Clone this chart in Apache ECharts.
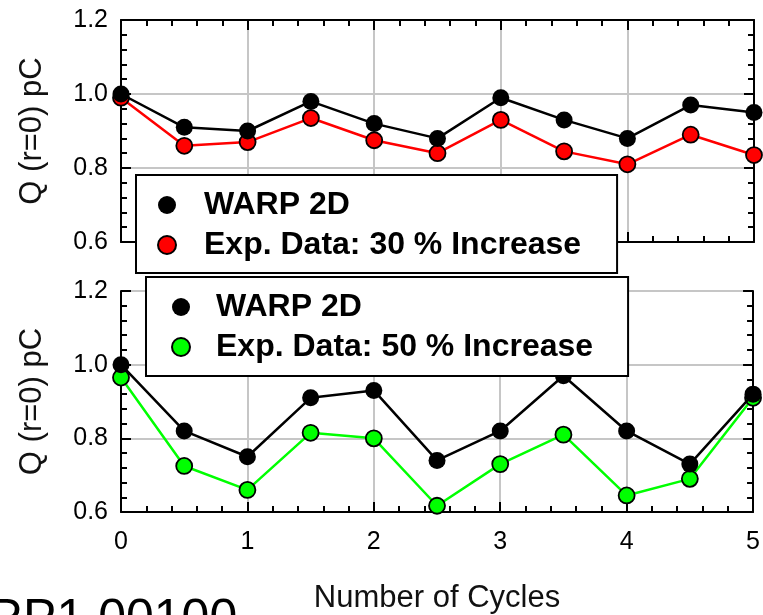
<!DOCTYPE html>
<html>
<head>
<meta charset="utf-8">
<script src="https://cdn.jsdelivr.net/npm/echarts@6/dist/echarts.min.js"></script>
<style>
  html, body { margin: 0; padding: 0; background: #fff; }
  #chart { width: 763px; height: 615px; }
</style>
</head>
<body>
<div id="chart"></div>
<script>
// Cycle positions shared by both panels
const cycles = [0, 0.5, 1, 1.5, 2, 2.5, 3, 3.5, 4, 4.5, 5];

// Upper panel: simulation vs. 30 % increase measurement
const warpUpper = [1.00, 0.91, 0.90, 0.98, 0.92, 0.88, 0.99, 0.93, 0.88, 0.97, 0.95];
const exp30 = [0.99, 0.86, 0.87, 0.935, 0.875, 0.84, 0.93, 0.845, 0.81, 0.89, 0.835];

// Lower panel: simulation vs. 50 % increase measurement
const warpLower = [1.00, 0.82, 0.75, 0.91, 0.93, 0.74, 0.82, 0.97, 0.82, 0.73, 0.92];
const exp50 = [0.965, 0.725, 0.66, 0.815, 0.80, 0.617, 0.73, 0.81, 0.645, 0.69, 0.91];

// Tick labels
const xTickLabels = ['0', '1', '2', '3', '4', '5'];
const yTickLabels = ['0.6', '0.8', '1.0', '1.2'];

const FONT = '"Liberation Sans", Arial, sans-serif';
const chart = echarts.init(document.getElementById('chart'), null, { renderer: 'canvas' });

function pts(ys) { return cycles.map((c, i) => [c, ys[i]]); }

function xAxisFor(gridIndex, position, opts) {
  return Object.assign({
    type: 'value', gridIndex, position,
    min: 0, max: 5, interval: 1,
    axisLine: { show: true, onZero: false, lineStyle: { color: '#000', width: 2 } },
    axisTick: { show: true, inside: true, length: 10, lineStyle: { color: '#000', width: 2 } },
    minorTick: { show: true, splitNumber: 5, length: 6, lineStyle: { color: '#000', width: 2 } },
    axisLabel: { show: false },
    splitLine: { show: false }
  }, opts || {});
}

function yAxisFor(gridIndex, position, opts) {
  return Object.assign({
    type: 'value', gridIndex, position,
    min: 0.6, max: 1.2, interval: 0.2,
    axisLine: { show: true, onZero: false, lineStyle: { color: '#000', width: 2 } },
    axisTick: { show: true, inside: true, length: 10, lineStyle: { color: '#000', width: 2 } },
    minorTick: { show: true, splitNumber: 5, length: 6, lineStyle: { color: '#000', width: 2 } },
    axisLabel: { show: false },
    splitLine: { show: false }
  }, opts || {});
}

const gridLine = { show: true, lineStyle: { color: '#c6c6c6', width: 2 } };
const tickFont = { fontFamily: FONT, fontSize: 25, color: '#000' };

function yLabel(v) {
  const idx = Math.round((v - 0.6) / 0.2);
  return yTickLabels[idx] !== undefined ? yTickLabels[idx] : '';
}
function xLabel(v) {
  const idx = Math.round(v);
  return xTickLabels[idx] !== undefined ? xTickLabels[idx] : '';
}

const yName = {
  name: 'Q (r=0) pC', nameLocation: 'middle', nameGap: 73,
  nameTextStyle: { fontFamily: FONT, fontSize: 31, color: '#111' }
};

function lineSeries(name, xi, yi, ys, color, z) {
  return {
    name, type: 'line', xAxisIndex: xi, yAxisIndex: yi,
    data: pts(ys), symbol: 'circle', symbolSize: color === '#000' ? 17 : 16,
    lineStyle: { color, width: 2.5 },
    itemStyle: { color, borderColor: '#000', borderWidth: color === '#000' ? 0 : 1.8 },
    emphasis: { disabled: true }, animation: false, z
  };
}

function legendFor(names, left, top, pad, textPad) {
  return {
    data: names, left, top, orient: 'vertical', icon: 'circle',
    itemWidth: 18, itemHeight: 18, itemGap: 8,
    padding: pad, backgroundColor: '#fff', borderColor: '#000', borderWidth: 2,
    selectedMode: false, z: 20,
    textStyle: { fontFamily: FONT, fontWeight: 'bold', fontSize: 32, lineHeight: 32, color: '#000', padding: [0, 0, 0, textPad] }
  };
}

const option = {
  backgroundColor: '#ffffff',
  animation: false,
  grid: [
    { left: 121, top: 20, width: 633, height: 222, containLabel: false },
    { left: 121, top: 291, width: 633, height: 222, containLabel: false }
  ],
  xAxis: [
    xAxisFor(0, 'bottom', { splitLine: gridLine }),
    xAxisFor(0, 'top'),
    xAxisFor(1, 'bottom', {
      splitLine: gridLine,
      axisLabel: Object.assign({ show: true, margin: 18, formatter: xLabel }, tickFont),
      name: 'Number of Cycles', nameLocation: 'middle', nameGap: 71,
      nameTextStyle: { fontFamily: FONT, fontSize: 31, color: '#111' }
    })
  ],
  yAxis: [
    yAxisFor(0, 'left', Object.assign({
      splitLine: gridLine,
      axisLabel: Object.assign({ show: true, margin: 13, formatter: yLabel }, tickFont)
    }, yName)),
    yAxisFor(0, 'right'),
    yAxisFor(1, 'left', Object.assign({
      splitLine: gridLine,
      axisLabel: Object.assign({ show: true, margin: 13, formatter: yLabel }, tickFont)
    }, yName)),
    yAxisFor(1, 'right')
  ],
  legend: [
    legendFor(['WARP 2D', 'Exp. Data: 30 % Increase'], 136, 175, [14, 36, 12, 21], 23),
    legendFor(['WARP 2D', 'Exp. Data: 50 % Increase'], 146, 277, [14, 35, 13, 25], 21)
  ],
  series: [
    lineSeries('Exp. Data: 30 % Increase', 0, 0, exp30, '#ff0000', 2),
    lineSeries('WARP 2D', 0, 0, warpUpper, '#000', 3),
    lineSeries('Exp. Data: 50 % Increase', 2, 2, exp50, '#00ff00', 2),
    lineSeries('WARP 2D', 2, 2, warpLower, '#000', 3)
  ],
  graphic: [
    {
      type: 'text', left: -13, top: 595, z: 30,
      style: { text: 'RP1.00100', font: '50px "Liberation Sans"', fill: '#000' }
    }
  ]
};

chart.setOption(option);
</script>
</body>
</html>
